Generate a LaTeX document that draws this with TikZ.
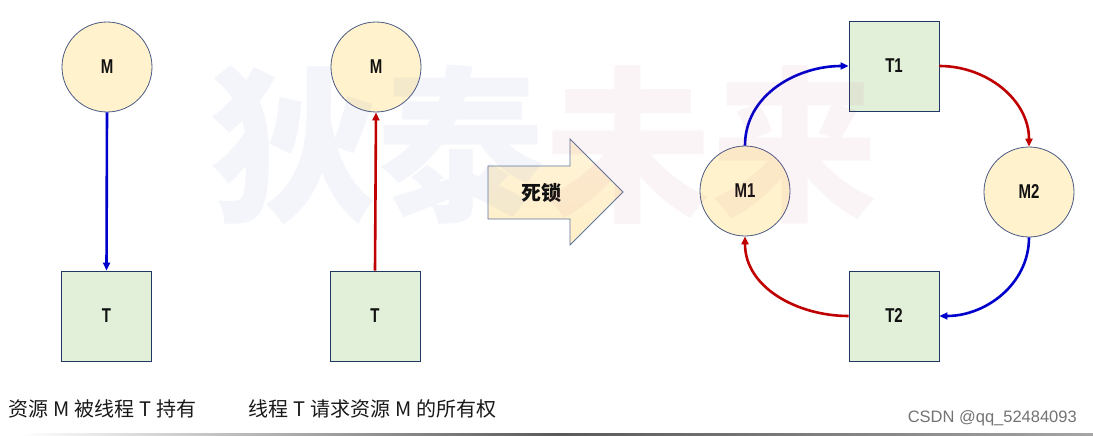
\documentclass[tikz,border=0pt]{standalone}
\usepackage{fontspec}
\setmainfont{Liberation Sans}
\newfontfamily\cjk{Noto Sans CJK SC}
\usetikzlibrary{arrows.meta}
\definecolor{circfill}{HTML}{FFF2CC}
\definecolor{circdraw}{HTML}{4A5A85}
\definecolor{sqfill}{HTML}{E2EFD9}
\definecolor{sqdraw}{HTML}{1F3864}
\definecolor{arblue}{HTML}{0000CC}
\definecolor{arred}{HTML}{C00000}
\definecolor{bigfill}{HTML}{FFEFC8}
\definecolor{bigdraw}{HTML}{5E739E}
\definecolor{wmblue}{RGB}{60,90,200}
\definecolor{wmpink}{RGB}{200,60,110}
\definecolor{labtext}{HTML}{111111}
\newcommand\lab[1]{\scalebox{0.75}[1]{#1}}
\tikzset{
  res/.style={circle, draw=circdraw, line width=0.8pt, fill=circfill, minimum size=90pt, inner sep=0pt,
    font=\fontsize{20}{24}\selectfont\bfseries, text=labtext},
  thr/.style={rectangle, draw=sqdraw, line width=0.9pt, fill=sqfill, minimum size=90pt, inner sep=0pt,
    font=\fontsize{20}{24}\selectfont\bfseries, text=labtext},
  conn/.style={line width=2.6pt, -{Triangle[length=8pt,width=7pt]}},
  bluec/.style={conn, draw=arblue},
  redc/.style={conn, draw=arred},
  caption/.style={anchor=west, inner sep=0pt, font=\cjk\fontsize{20}{24}\selectfont, text=black!90},
  wmark/.style={anchor=west, inner sep=0pt, font=\cjk\bfseries\fontsize{167}{170}\selectfont, text opacity=0.055}
}
\newcommand\gap{\hspace{5pt}}
\begin{document}
\begin{tikzpicture}[x=1pt,y=-1pt]
\useasboundingbox (0,0) rectangle (1093,436);
\fill[white] (0,0) rectangle (1093,436);

% left panel
\node[res] (m1) at (107,67) {\lab{M}};
\node[thr] (t1) at (106.5,316) {\lab{T}};
\draw[bluec] (m1.south) -- (t1.north);

% middle panel
\node[res] (m2) at (376,67) {\lab{M}};
\node[thr] (t2) at (375,316) {\lab{T}};
\draw[redc] (t2.north) -- (m2.south);

% big arrow
\shade[top color=bigfill!70!white, bottom color=bigfill, draw=bigdraw, line width=0.8pt]
  (488,166) -- (570,166) -- (570,139) -- (623,192) -- (570,245) -- (570,219) -- (488,219) -- cycle;
\node[font=\cjk\bfseries\fontsize{20}{24}\selectfont, text=labtext] (dl) at (541,193) {死锁};

% right panel
\node[thr] (T1) at (894,66) {\lab{T1}};
\node[thr] (T2) at (894,316) {\lab{T2}};
\node[res] (M1) at (745,191) {\lab{M1}};
\node[res] (M2) at (1029,192) {\lab{M2}};
\draw[bluec] (M1.north) to[out=90,in=180] (T1.west);
\draw[redc] (T1.east) to[out=0,in=90] (M2.north);
\draw[bluec] (M2.south) to[out=-90,in=0] (T2.east);
\draw[redc] (T2.west) to[out=180,in=-90] (M1.south);

% watermark
\node[wmark, text=wmblue] (wa) at (210,145) {狄泰};
\node[wmark, text=wmpink] (wb) at (544,145) {未来};

% captions
\node[caption] (c1) at (8,409) {资源\gap M\gap 被线程\gap T\gap 持有};
\node[caption] (c2) at (248,409) {线程\gap T\gap 请求资源\gap M\gap 的所有权};
\node[anchor=east, inner sep=0pt, font=\fontsize{16.5}{20}\selectfont, text=black!55] (csdn) at (1077,418) {CSDN @qq\_52484093};

% bottom bar
\shade[left color=white, right color=black!35, middle color=black!65] (20,433) rectangle (1093,436);
\end{tikzpicture}
\end{document}
